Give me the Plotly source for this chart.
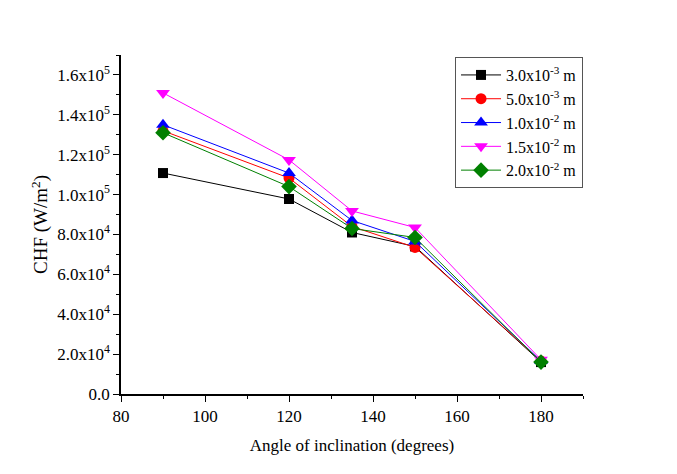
import plotly.graph_objects as go

angles = [90, 120, 135, 150, 180]
names = ["3.0x10<sup>-3</sup> m", "5.0x10<sup>-3</sup> m", "1.0x10<sup>-2</sup> m",
         "1.5x10<sup>-2</sup> m", "2.0x10<sup>-2</sup> m"]
chf_3p0e3 = [1.108e5, 0.978e5, 0.81e5, 0.74e5, 1.6e4]
chf_5p0e3 = [1.32e5, 1.083e5, 0.84e5, 0.735e5, 1.65e4]
chf_1p0e2 = [1.35e5, 1.108e5, 0.87e5, 0.765e5, 1.65e4]
chf_1p5e2 = [1.51e5, 1.174e5, 0.918e5, 0.835e5, 1.72e4]
chf_2p0e2 = [1.31e5, 1.04e5, 0.83e5, 0.785e5, 1.6e4]

ytick_vals = [0, 2e4, 4e4, 6e4, 8e4, 1e5, 1.2e5, 1.4e5, 1.6e5]
ytick_text = ["0.0", "2.0x10<sup>4</sup>", "4.0x10<sup>4</sup>", "6.0x10<sup>4</sup>",
              "8.0x10<sup>4</sup>", "1.0x10<sup>5</sup>", "1.2x10<sup>5</sup>",
              "1.4x10<sup>5</sup>", "1.6x10<sup>5</sup>"]

series = [chf_3p0e3, chf_5p0e3, chf_1p0e2, chf_1p5e2, chf_2p0e2]
colors = ["#000000", "#FF0000", "#0000FF", "#FF00FF", "#008000"]
symbols = ["square", "circle", "triangle-up", "triangle-down", "diamond"]
sizes = [10, 11, 12, 12, 12]

fig = go.Figure()
for n, s, c, sym, sz in zip(names, series, colors, symbols, sizes):
    fig.add_trace(go.Scatter(x=angles, y=s, name=n, mode="lines+markers",
                             line=dict(color=c, width=1),
                             marker=dict(color=c, symbol=sym, size=sz)))

font = "Liberation Serif, Times New Roman, serif"
fig.update_layout(
    width=669, height=466,
    margin=dict(l=113, r=94, t=47, b=80),
    plot_bgcolor="white", paper_bgcolor="white",
    font=dict(family=font, size=16, color="black"),
    showlegend=True,
    legend=dict(x=0.723, y=0.994, xanchor="left", yanchor="top",
                bordercolor="#555555", borderwidth=1, bgcolor="white",
                font=dict(family=font, size=16), tracegroupgap=0,
                itemwidth=40),
    xaxis=dict(range=[80, 190], tickvals=[80, 100, 120, 140, 160, 180],
               automargin=False,
               showline=True, linecolor="black", linewidth=1.5,
               ticks="outside", ticklen=6, tickcolor="black", showgrid=False,
               zeroline=False,
               minor=dict(ticks="outside", ticklen=3, dtick=10, tick0=80, tickcolor="black"),
               title=dict(text="Angle of inclination (degrees)", standoff=14,
                          font=dict(size=17)),
               tickfont=dict(size=17)),
    yaxis=dict(range=[0, 1.7e5], tickvals=ytick_vals, ticktext=ytick_text,
               automargin=False,
               showline=True, linecolor="black", linewidth=1.5,
               ticks="outside", ticklen=6, tickcolor="black", showgrid=False,
               zeroline=False,
               minor=dict(ticks="outside", ticklen=3, dtick=1e4, tick0=0, tickcolor="black"),
               title=dict(text="CHF (W/m<sup>2</sup>)", standoff=4,
                          font=dict(size=19)),
               tickfont=dict(size=17)),
)

fig.write_html("out.html")
